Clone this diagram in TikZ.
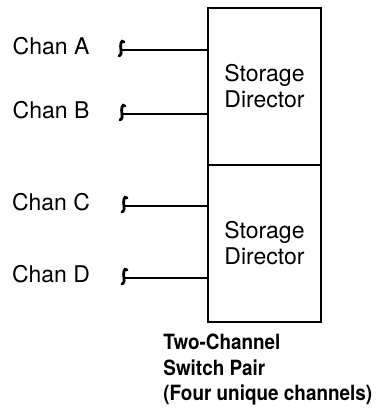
\documentclass[tikz,border=0pt]{standalone}
\usepackage{fontspec}
\setmainfont{TeX Gyre Heros}
\newfontfamily\capfont[FakeStretch=0.9]{TeX Gyre Heros}
\usepackage{tikz}
\usetikzlibrary{positioning,calc}

\tikzset{
  sdbox/.style={draw,line width=1.3pt,minimum width=56.5pt,minimum height=78.5pt,
    outer sep=0pt,align=center,inner sep=0pt,font=\fontsize{11.5}{13}\selectfont},
  chan/.style={font=\fontsize{11.5}{13}\selectfont,inner sep=0pt},
  wire/.style={line width=1.3pt},
  curl/.style={line width=1.4pt,line cap=round}
}

\begin{document}
\begin{tikzpicture}[x=0.5pt,y=-0.5pt]
  \useasboundingbox (0,0) rectangle (375,412);
  % the two directors, stacked
  \node[sdbox] (sd1) at (264.5,86.5) {Storage\\Director};
  \node[sdbox,below=0pt of sd1] (sd2) {Storage\\Director};
  % channels
  \foreach \n/\l/\y/\x in {a/A/50/121,b/B/114/122,c/C/206/124,d/D/278/124} {
    \node[chan] (l\n) at (51,\y-4) {Chan \l};
    \coordinate (e\n) at (\x,\y);
  }
  \draw[wire] (ea) -- (ea -| sd1.west);
  \draw[wire] (eb) -- (eb -| sd1.west);
  \draw[wire] (ec) -- (ec -| sd2.west);
  \draw[wire] (ed) -- (ed -| sd2.west);
  % little curls on the loose ends
  \foreach \n in {a,b,c,d}
    \draw[curl] ($(e\n)+(3,-8)$) .. controls ($(e\n)+(0,-11)$) and ($(e\n)+(-1,-5)$) .. (e\n)
      .. controls ($(e\n)+(0.5,4)$) and ($(e\n)+(-0.5,6)$) .. ($(e\n)+(-2,6)$);
  % caption
  \node[anchor=north west,align=left,inner sep=0pt,
    font=\fontsize{10.5}{12.6}\capfont\bfseries] (cap) at (163,334)
    {Two-Channel\\Switch Pair\\(Four unique channels)};
\end{tikzpicture}
\end{document}
